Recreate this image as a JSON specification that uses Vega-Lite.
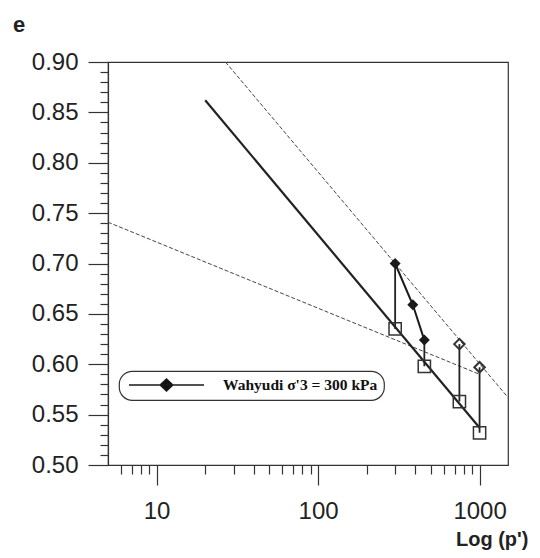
{
  "$schema": "https://vega.github.io/schema/vega-lite/v6.json",
  "autosize": "none",
  "width": 400,
  "height": 403,
  "padding": {"left": 108, "top": 62, "right": 32, "bottom": 93},
  "title": {"text": "e", "anchor": "start", "frame": "group", "dx": -95, "dy": 26, "offset": 22, "baseline": "alphabetic", "font": "Liberation Sans", "fontWeight": "bold", "fontSize": 22, "color": "#222"},
  "datasets": {
    "lines": [
      {"line": "CSL", "p": 20, "e": 0.862},
      {"line": "CSL", "p": 1000, "e": 0.537},
      {"line": "upper", "p": 26.7, "e": 0.9},
      {"line": "upper", "p": 1500, "e": 0.567},
      {"line": "lower", "p": 5, "e": 0.741},
      {"line": "lower", "p": 1000, "e": 0.59}
    ],
    "drops": [
      {"p": 300, "e": 0.70, "e2": 0.635},
      {"p": 455, "e": 0.624, "e2": 0.598},
      {"p": 750, "e": 0.62, "e2": 0.563},
      {"p": 1000, "e": 0.597, "e2": 0.532}
    ],
    "path": [
      {"series": "Wahyudi σ'3 = 300 kPa", "p": 300, "e": 0.70},
      {"series": "Wahyudi σ'3 = 300 kPa", "p": 386, "e": 0.659},
      {"series": "Wahyudi σ'3 = 300 kPa", "p": 455, "e": 0.624}
    ],
    "points": [
      {"marker": "solid", "p": 300, "e": 0.70},
      {"marker": "solid", "p": 386, "e": 0.659},
      {"marker": "solid", "p": 455, "e": 0.624},
      {"marker": "open", "p": 750, "e": 0.62},
      {"marker": "open", "p": 1000, "e": 0.597},
      {"marker": "square", "p": 300, "e": 0.635},
      {"marker": "square", "p": 455, "e": 0.598},
      {"marker": "square", "p": 750, "e": 0.563},
      {"marker": "square", "p": 1000, "e": 0.532}
    ]
  },
  "encoding": {
    "x": {
      "field": "p", "type": "quantitative",
      "scale": {"type": "log", "domain": [5, 1500], "nice": false},
      "axis": {
        "title": "Log (p')",
        "values": [6, 7, 8, 9, 10, 20, 30, 40, 50, 60, 70, 80, 90, 100, 200, 300, 400, 500, 600, 700, 800, 900, 1000],
        "format": "d",
        "labelExpr": "(datum.value == 10 || datum.value == 100 || datum.value == 1000) ? datum.label : ''",
        "tickSize": {"condition": {"test": "datum.value == 10 || datum.value == 100 || datum.value == 1000", "value": 20}, "value": 9},
        "labelPadding": 14,
        "labelFont": "Liberation Sans", "labelFontSize": 24, "labelColor": "#222",
        "labelOverlap": false, "labelFlush": false, "labelBound": false,
        "titleFont": "Liberation Sans", "titleFontWeight": "bold", "titleFontSize": 20, "titleColor": "#222",
        "titleAnchor": "end", "titleAlign": "right", "titleBaseline": "alphabetic", "titleX": 420, "titleY": 80,
        "grid": false, "domainColor": "#333", "domainWidth": 1.2, "tickColor": "#333", "tickWidth": 1.2
      }
    },
    "y": {
      "field": "e", "type": "quantitative",
      "scale": {"domain": [0.5, 0.9], "nice": false, "zero": false},
      "axis": {
        "title": null,
        "values": [0.5, 0.51, 0.52, 0.53, 0.54, 0.55, 0.56, 0.57, 0.58, 0.59, 0.6, 0.61, 0.62, 0.63, 0.64, 0.65, 0.66, 0.67, 0.68, 0.69, 0.7, 0.71, 0.72, 0.73, 0.74, 0.75, 0.76, 0.77, 0.78, 0.79, 0.8, 0.81, 0.82, 0.83, 0.84, 0.85, 0.86, 0.87, 0.88, 0.89, 0.9],
        "labelExpr": "round(datum.value * 100) % 5 == 0 ? format(datum.value, '.2f') : ''",
        "tickSize": {"condition": {"test": "round(datum.value * 100) % 5 == 0", "value": 20}, "value": 8},
        "labelPadding": 10,
        "labelFont": "Liberation Sans", "labelFontSize": 24, "labelColor": "#222",
        "labelOverlap": false, "labelFlush": false, "labelBound": false,
        "grid": false, "domainColor": "#333", "domainWidth": 1.2, "tickColor": "#333", "tickWidth": 1.2
      }
    }
  },
  "layer": [
    {
      "data": {"name": "lines"},
      "transform": [{"filter": "datum.line != 'CSL'"}],
      "mark": {"type": "line", "color": "#444", "strokeWidth": 1, "strokeDash": [4, 2]},
      "encoding": {"detail": {"field": "line"}}
    },
    {
      "data": {"name": "lines"},
      "transform": [{"filter": "datum.line == 'CSL'"}],
      "mark": {"type": "line", "color": "#222", "strokeWidth": 2.2},
      "encoding": {"detail": {"field": "line"}}
    },
    {
      "data": {"name": "drops"},
      "mark": {"type": "rule", "color": "#222", "strokeWidth": 1.8},
      "encoding": {"y2": {"field": "e2"}}
    },
    {
      "data": {"name": "path"},
      "mark": {"type": "line", "strokeWidth": 2},
      "encoding": {
        "color": {
          "field": "series", "type": "nominal",
          "scale": {"range": ["#1a1a1a"]},
          "legend": {
            "orient": "none", "legendX": 11, "legendY": 309, "title": null,
            "symbolType": "M -1 0 L 1 0 M 0 -0.16 L 0.17 0 L 0 0.16 L -0.17 0 Z",
            "symbolSize": 5625, "symbolOffset": 3, "clipHeight": 16, "labelOffset": 18,
            "labelFont": "Liberation Serif", "labelFontWeight": "bold", "labelFontSize": 15.5, "labelColor": "#111",
            "padding": 6, "strokeColor": "#333", "cornerRadius": 13, "fillColor": "white",
            "encode": {"symbols": {"update": {"fill": {"value": "#111"}, "stroke": {"value": "#111"}, "strokeWidth": {"value": 1.5}}}}
          }
        }
      }
    },
    {
      "data": {"name": "points"},
      "transform": [{"filter": "datum.marker == 'solid'"}],
      "mark": {"type": "point", "shape": "diamond", "filled": true, "color": "#1a1a1a", "size": 120, "opacity": 1}
    },
    {
      "data": {"name": "points"},
      "transform": [{"filter": "datum.marker == 'open'"}],
      "mark": {"type": "point", "shape": "diamond", "filled": false, "color": "#333", "strokeWidth": 2, "size": 110, "opacity": 1}
    },
    {
      "data": {"name": "points"},
      "transform": [{"filter": "datum.marker == 'square'"}],
      "mark": {"type": "point", "shape": "square", "filled": false, "color": "#333", "strokeWidth": 1.5, "size": 150, "opacity": 1}
    }
  ],
  "config": {
    "view": {"stroke": "#333", "strokeWidth": 1.2},
    "font": "Liberation Sans",
    "legend": {"strokeWidth": 1.2}
  }
}
